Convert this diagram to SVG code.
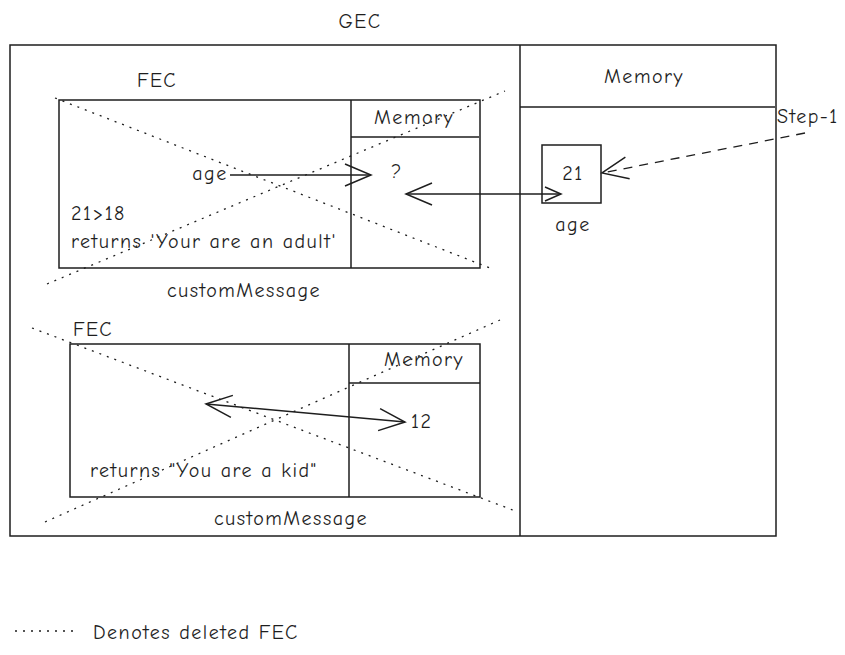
<svg xmlns="http://www.w3.org/2000/svg" width="845" height="655" viewBox="0 0 845 655">
<defs>
<style>
.box{fill:none;stroke:#1e1e1e;stroke-width:1.5}
.dot{fill:none;stroke:#1e1e1e;stroke-width:1.3;stroke-dasharray:2 6}
.ln{fill:none;stroke:#1e1e1e;stroke-width:1.5}
.dash{fill:none;stroke:#1e1e1e;stroke-width:1.3;stroke-dasharray:9 7}
text{font-family:"Comic Neue","Liberation Sans","Noto Sans",sans-serif;font-size:20px;letter-spacing:1.5px;fill:#1e1e1e}
.m{text-anchor:middle}
</style>
<marker id="ah" markerWidth="20" markerHeight="20" refX="18" refY="10" orient="auto-start-reverse" markerUnits="userSpaceOnUse">
<path d="M2,3 L18,10 L2,17" fill="none" stroke="#1e1e1e" stroke-width="1.5"/>
</marker>
<marker id="ah2" markerWidth="30" markerHeight="30" refX="28" refY="15" orient="auto-start-reverse" markerUnits="userSpaceOnUse">
<path d="M2,4 L28,15 L2,26" fill="none" stroke="#1e1e1e" stroke-width="1.5"/>
</marker>
</defs>
<rect width="845" height="655" fill="#ffffff"/>

<g id="gec">
<text class="m" x="360" y="28">GEC</text>
<rect class="box" x="10" y="45" width="766" height="491"/>
<line class="ln" x1="520" y1="45" x2="520" y2="536"/>
<line class="ln" x1="520" y1="107" x2="775" y2="107"/>
<text class="m" x="644" y="83">Memory</text>
</g>

<g id="age-box">
<rect class="box" x="542" y="145" width="59" height="58"/>
<text class="m" x="573" y="180">21</text>
<text class="m" x="573" y="231">age</text>
</g>

<g id="step1">
<text x="777" y="123">Step-1</text>
</g>

<g id="fec1">
<text class="m" x="157" y="87">FEC</text>
<rect class="box" x="59" y="100" width="421" height="168"/>
<line class="ln" x1="351" y1="100" x2="351" y2="268"/>
<line class="ln" x1="351" y1="137" x2="479" y2="137"/>
<text class="m" x="414" y="124">Memory</text>
<text class="m" x="210" y="180">age</text>
<text class="m" x="397" y="178">?</text>
<text x="71" y="220">21&gt;18</text>
<text x="71" y="248">returns 'Your are an adult'</text>
<text class="m" x="244" y="297">customMessage</text>
<line class="dot" x1="55" y1="98" x2="490" y2="268"/>
<line class="dot" x1="47" y1="284" x2="505" y2="91"/>
</g>

<g id="fec2">
<text class="m" x="93" y="336">FEC</text>
<rect class="box" x="70" y="344" width="410" height="153"/>
<line class="ln" x1="349" y1="344" x2="349" y2="497"/>
<line class="ln" x1="349" y1="383" x2="480" y2="383"/>
<text class="m" x="424" y="366">Memory</text>
<text x="411" y="428">12</text>
<text x="90" y="477">returns "You are a kid"</text>
<text class="m" x="291" y="525">customMessage</text>
<line class="dot" x1="32" y1="328" x2="518" y2="512"/>
<line class="dot" x1="45" y1="522" x2="500" y2="320"/>
</g>

<g id="legend">
<line class="dot" x1="15" y1="631" x2="78" y2="631"/>
<text x="93" y="639">Denotes deleted FEC</text>
</g>

<g id="connectors">
<line class="ln" x1="230" y1="175" x2="371" y2="175" marker-end="url(#ah2)"/>
<line class="ln" x1="406" y1="194" x2="561" y2="194" marker-start="url(#ah2)" marker-end="url(#ah)"/>
<line class="ln" x1="206" y1="404" x2="405" y2="422" marker-start="url(#ah2)" marker-end="url(#ah2)"/>
<line class="dash" x1="805" y1="133" x2="602" y2="173" marker-end="url(#ah2)"/>
</g>
</svg>
